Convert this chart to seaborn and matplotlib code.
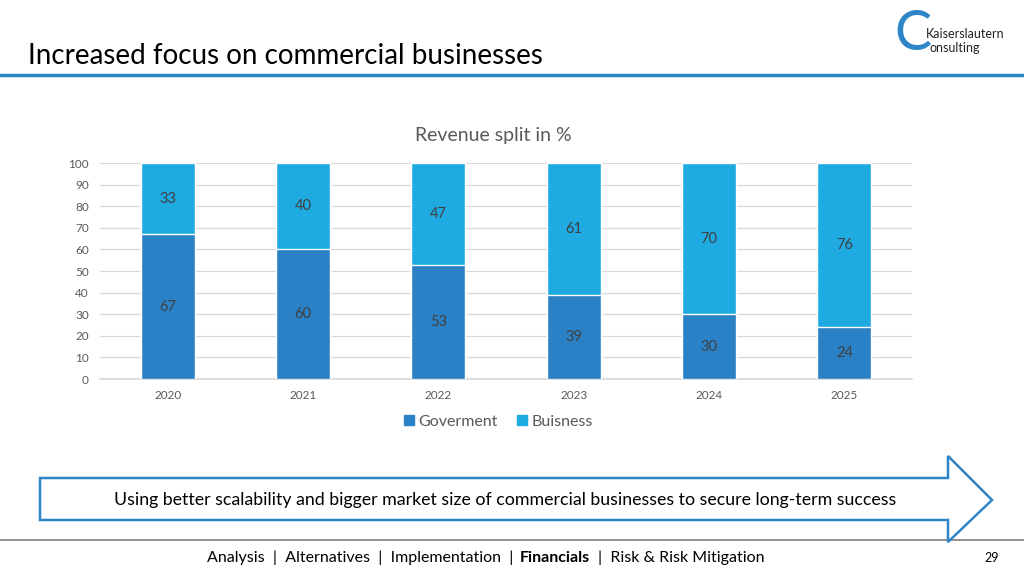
import matplotlib
matplotlib.use("Agg")
import matplotlib.pyplot as plt
from matplotlib.patches import Polygon
from matplotlib.lines import Line2D
import seaborn as sns
import pandas as pd

# Datos del gráfico
years = ["2020", "2021", "2022", "2023", "2024", "2025"]
goverment = [67, 60, 53, 39, 30, 24]
buisness = [33, 40, 47, 61, 70, 76]

C_GOV = "#2a81c6"
C_BUS = "#1faae1"
BLUE = "#2e86c8"
GRAY = "#595959"

sns.set_theme(style="white")
plt.rcParams["font.family"] = ["Lato", "DejaVu Sans"]

df = pd.DataFrame({"year": years, "gov": goverment, "bus": buisness})
df["total"] = df["gov"] + df["bus"]

W, H = 1024, 576
fig = plt.figure(figsize=(10.24, 5.76), dpi=100)
ax = fig.add_axes([100 / W, 1 - 379 / H, 812 / W, 216 / H])

sns.barplot(data=df, x="year", y="total", color=C_BUS, width=0.4, saturation=1, ax=ax, zorder=3)
sns.barplot(data=df, x="year", y="gov", color=C_GOV, width=0.4, saturation=1, ax=ax, zorder=3)

for i, (g, b) in enumerate(zip(goverment, buisness)):
    ax.text(i, g / 2, str(g), ha="center", va="center", fontsize=10.5, color="#404040", zorder=4)
    ax.text(i, g + b / 2, str(b), ha="center", va="center", fontsize=10.5, color="#404040", zorder=4)

ax.set_ylim(0, 100)
ax.set_xlim(-0.5, len(years) - 0.5)
ax.set_yticks(range(0, 101, 10))
ax.yaxis.grid(True, color="#d9d9d9", linewidth=0.9, zorder=0)
ax.tick_params(axis="both", labelsize=8.5, colors=GRAY, length=0, pad=8)
ax.set_xlabel("")
ax.set_ylabel("")
for s in ["top", "right", "left"]:
    ax.spines[s].set_visible(False)
ax.spines["bottom"].set_color("#d9d9d9")

fig.text(493 / W, 1 - 136 / H, "Revenue split in %", fontsize=14, color=GRAY, ha="center", va="center")

handles = [Line2D([], [], marker="s", linestyle="", color=C_GOV, markersize=7),
           Line2D([], [], marker="s", linestyle="", color=C_BUS, markersize=7)]
fig.legend(handles, ["Goverment", "Buisness"], loc="center", bbox_to_anchor=(497 / W, 1 - 422 / H),
           ncol=2, frameon=False, fontsize=11.5, labelcolor=GRAY, handletextpad=0.1,
           columnspacing=1.0, handlelength=1.0)

# Título de la diapositiva
fig.text(28 / W, 1 - 56 / H, "Increased focus on commercial businesses", fontsize=20,
         color="black", va="center", ha="left")
fig.add_artist(Line2D([0, 1], [1 - 75 / H] * 2, color=BLUE, linewidth=2.5, transform=fig.transFigure))

# Logo
fig.text(913 / W, 1 - 35 / H, "C", fontsize=40, color=BLUE, ha="center", va="center")
fig.text(926 / W, 1 - 34 / H, "Kaiserslautern", fontsize=9, color="#222222", ha="left", va="center")
fig.text(929 / W, 1 - 48 / H, "onsulting", fontsize=9, color="#222222", ha="left", va="center")

# Flecha
pts = [(40, 478), (948, 478), (948, 456), (992, 500), (948, 542), (948, 520), (40, 520)]
arrow = Polygon([(x / W, 1 - y / H) for x, y in pts], closed=True, facecolor="white",
                edgecolor=BLUE, linewidth=1.8, transform=fig.transFigure, zorder=1)
fig.add_artist(arrow)
fig.text(505 / W, 1 - 500 / H, "Using better scalability and bigger market size of commercial businesses to secure long-term success",
         fontsize=12.8, color="black", ha="center", va="center", zorder=2)

# Pie de página
fig.add_artist(Line2D([0, 1], [1 - 540 / H] * 2, color="#7f7f7f", linewidth=1.2, transform=fig.transFigure, zorder=0))
fig.text(513 / W, 1 - 558 / H, "Analysis  |  Alternatives  |  Implementation  |", fontsize=11.5, color="black",
         ha="right", va="center")
fig.text(555 / W, 1 - 558 / H, "Financials", fontsize=11.5, color="black", fontweight="bold",
         ha="center", va="center")
fig.text(598 / W, 1 - 558 / H, "|  Risk & Risk Mitigation", fontsize=11.5, color="black",
         ha="left", va="center")
fig.text(992 / W, 1 - 558 / H, "29", fontsize=9, color="black", ha="center", va="center")

fig.savefig("out.png", dpi=100)
